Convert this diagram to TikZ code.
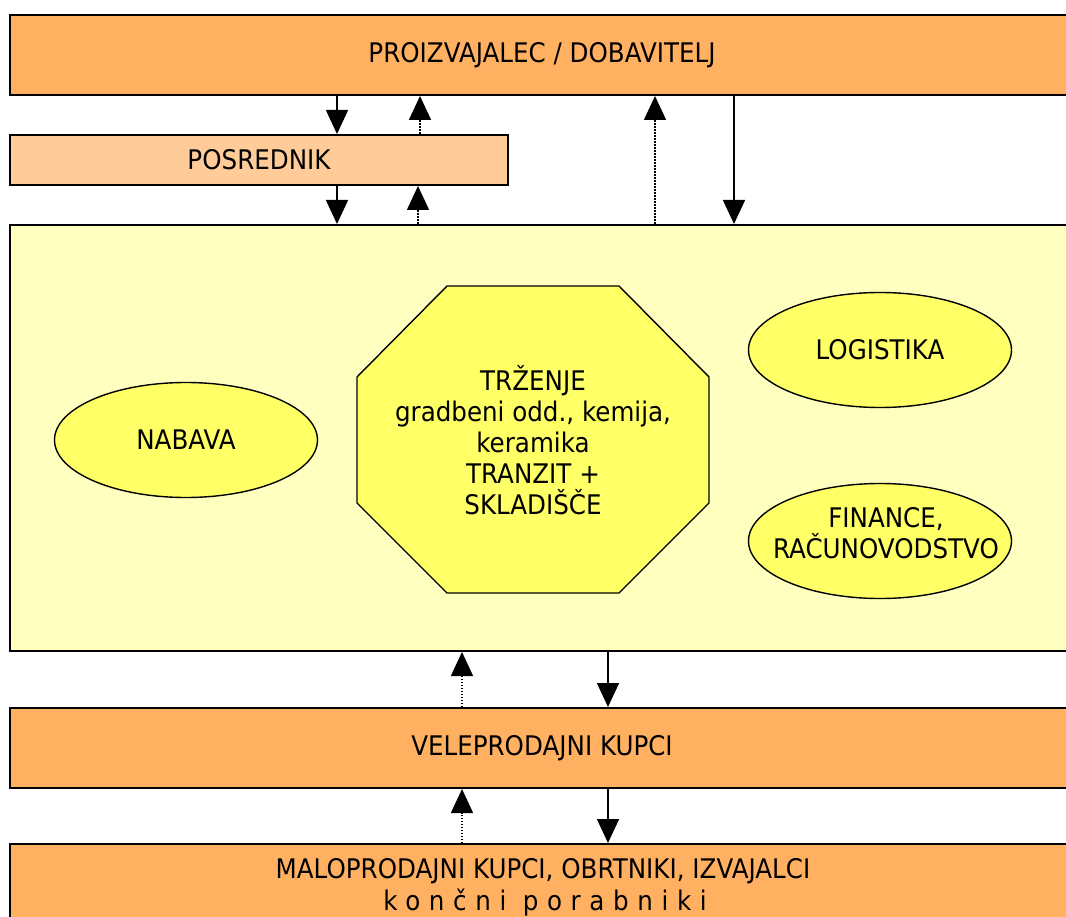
\documentclass[tikz,border=0pt]{standalone}
\usepackage{fontspec}
\setmainfont{DejaVu Sans}[FakeStretch=0.91]
\usetikzlibrary{arrows.meta,shapes.geometric}

\definecolor{barorange}{HTML}{FFB060}
\definecolor{midorange}{HTML}{FFCC99}
\definecolor{paleyellow}{HTML}{FFFFC0}
\definecolor{unityellow}{HTML}{FFFF66}

\tikzset{
  every node/.style={font=\fontsize{27}{31}\selectfont, inner sep=0pt},
  bar/.style={draw=black, line width=2pt},
  unit/.style={ellipse, draw=black, line width=1.4pt, fill=unityellow,
    minimum width=263pt, minimum height=115pt, align=center},
  flowdown/.style={line width=1.5pt, -{Triangle[length=24pt,width=22pt]}},
  flowup/.style={line width=1.5pt, dash pattern=on 1.5pt off 1.5pt,
    -{Triangle[length=24pt,width=22pt]}}
}

\begin{document}
\begin{tikzpicture}[x=1pt,y=-1pt]
\clip (0,0) rectangle (1066,917);
\fill[white] (0,0) rectangle (1066,917);

% horizontal bars
\node[bar, fill=barorange, minimum width=1064pt, minimum height=80pt] (maker) at (542,55) {PROIZVAJALEC / DOBAVITELJ};
\node[bar, fill=midorange, minimum width=498pt, minimum height=50pt] (agent) at (259,160) {POSREDNIK};
\node[bar, fill=paleyellow, minimum width=1064pt, minimum height=426pt] (firm) at (542,438) {};
\node[bar, fill=barorange, minimum width=1064pt, minimum height=80pt] (wholesale) at (542,748) {VELEPRODAJNI KUPCI};
\node[bar, fill=barorange, minimum width=1064pt, minimum height=110pt] (retail) at (542,899) {};
\node (retailA) at (543,871) {MALOPRODAJNI KUPCI, OBRTNIKI, IZVAJALCI};
\node (retailB) at (545,903) {\addfontfeature{LetterSpace=32}končni porabniki};

% departments inside the company
\node[unit] (purchase) at (186,440) {NABAVA};
\node[unit] (logistics) at (880,350) {LOGISTIKA};
\node[unit] (finance) at (880,541) {};
\node (financeText) at (886,533) [align=center] {FINANCE,\\RAČUNOVODSTVO};

\draw[line width=1.4pt, fill=unityellow]
  (447,286) -- (619,286) -- (709,377) -- (709,503) -- (619,593) -- (447,593) -- (357,503) -- (357,377) -- cycle;
\node[align=center] (marketing) at (533,440) {TRŽENJE\\gradbeni odd., kemija,\\keramika\\TRANZIT +\\SKLADIŠČE};

% connector columns
\coordinate (xa) at (337,0);
\coordinate (xb) at (420,0);
\coordinate (xc) at (418,0);
\coordinate (xd) at (655,0);
\coordinate (xe) at (734,0);
\coordinate (xf) at (462,0);
\coordinate (xg) at (608,0);

\draw[flowdown] (maker.south -| xa) -- (agent.north -| xa);
\draw[flowup]   (agent.north -| xb) -- (maker.south -| xb);
\draw[flowdown] (agent.south -| xa) -- (firm.north -| xa);
\draw[flowup]   (firm.north -| xc) -- (agent.south -| xc);
\draw[flowup]   (firm.north -| xd) -- (maker.south -| xd);
\draw[flowdown] (maker.south -| xe) -- (firm.north -| xe);
\draw[flowup]   (wholesale.north -| xf) -- (firm.south -| xf);
\draw[flowdown] (firm.south -| xg) -- (wholesale.north -| xg);
\draw[flowup]   (retail.north -| xf) -- (wholesale.south -| xf);
\draw[flowdown] (wholesale.south -| xg) -- (retail.north -| xg);
\end{tikzpicture}
\end{document}
